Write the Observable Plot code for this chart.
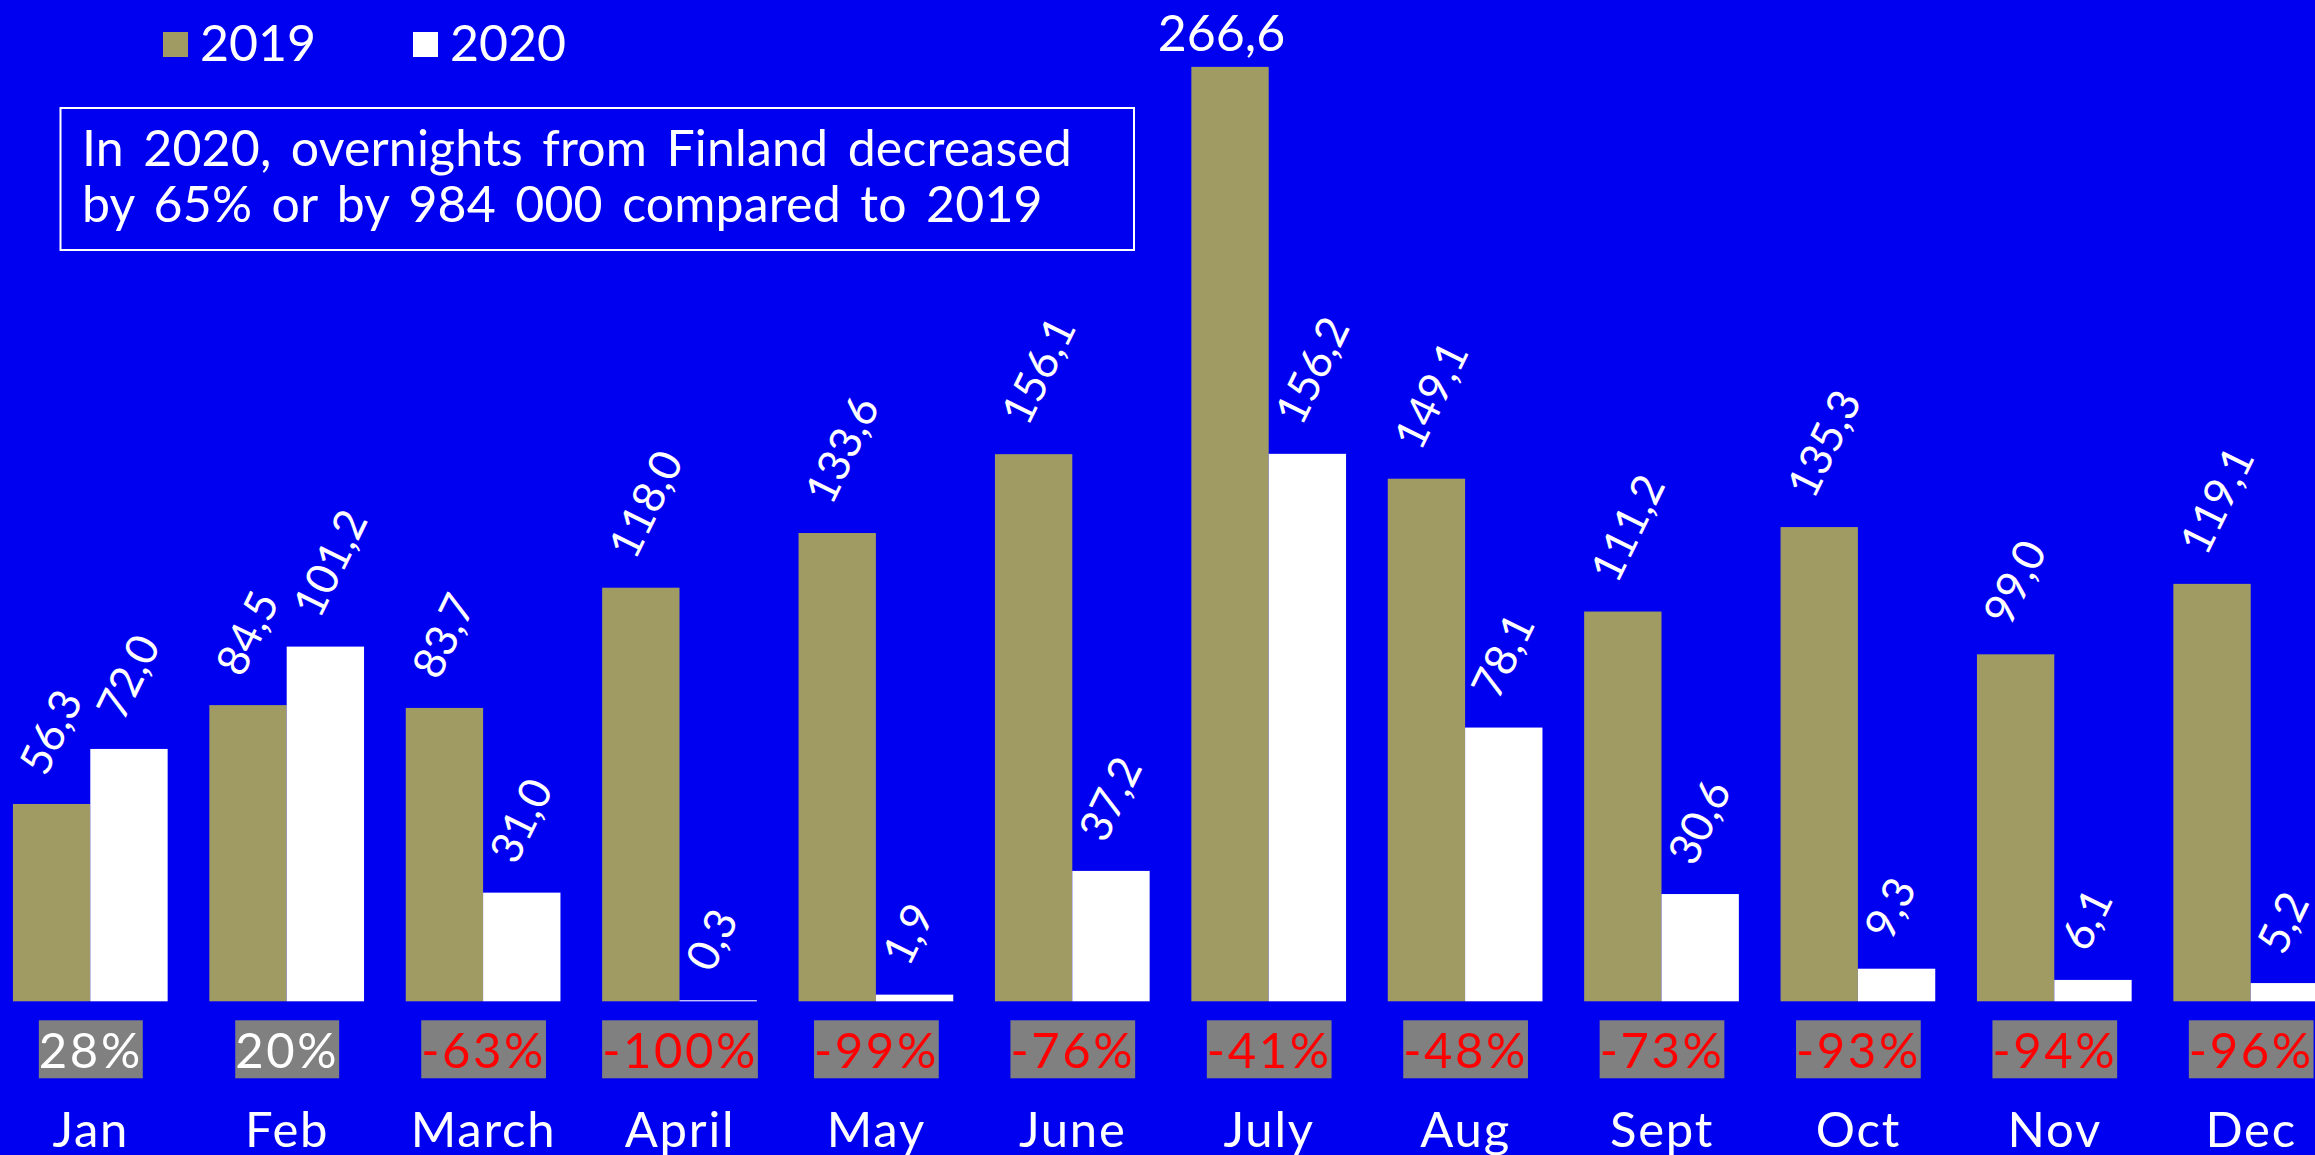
<!DOCTYPE html>
<html><head><meta charset="utf-8">
<script src="https://cdn.jsdelivr.net/npm/d3@7"></script>
<script src="https://cdn.jsdelivr.net/npm/@observablehq/plot@0.6"></script>
<style>
html,body{margin:0;padding:0;background:#0000F0;overflow:hidden;}
#wrap{position:relative;width:2315px;height:1155px;overflow:hidden;background:#0000F0;}
#wrap > svg{position:absolute;left:0;top:0;}
</style></head><body><div id="wrap"></div>
<script>
// ---- data ----
const months = ["Jan","Feb","March","April","May","June","July","Aug","Sept","Oct","Nov","Dec"];
const values2019 = [56.3, 84.5, 83.7, 118.0, 133.6, 156.1, 266.6, 149.1, 111.2, 135.3, 99.0, 119.1];
const values2020 = [72.0, 101.2, 31.0, 0.3, 1.9, 37.2, 156.2, 78.1, 30.6, 9.3, 6.1, 5.2];
const changes = [28, 20, -63, -100, -99, -76, -41, -48, -73, -93, -94, -96];
const seriesNames = ["2019", "2020"];
const noteLines = ["In 2020, overnights from Finland decreased", "by 65% or by 984 000 compared to 2019"];

// ---- style ----
const BLUE = "#0000F0", OLIVE = "#A09A63", WHITE = "#FFFFFF", RED = "#FF0000", GRAY = "#808080";
const FONT = "Lato, 'Open Sans', sans-serif";

const rows2019 = months.map((m, i) => ({month: m, value: values2019[i]}));
const rows2020 = months.map((m, i) => ({month: m, value: values2020[i]}));
const pctRows = months.map((m, i) => ({month: m, change: changes[i]}));
const fmt = v => v.toFixed(1).replace(".", ",");
const fmtPct = v => (v < 0 ? "-" : "") + Math.abs(v) + "%";

// layout of the band scale (groups run off the right edge as in the reference)
const step = 196.4, firstCenter = 90.3, pad = 0.2123;
const xStart = firstCenter - step * (1 + pad) / 2;
const xEnd = xStart + step * (months.length + pad);
const half = step * (1 - pad) / 2;
const base = 1001.3;
const ROT = -64, RFS = 44, RDX = -19, RDY = -33;

const chart = Plot.plot({
  width: 2315, height: 1155,
  marginLeft: 0, marginRight: 0, marginTop: base - 280 * 3.505, marginBottom: 1155 - base,
  style: {background: "transparent", fontFamily: FONT, color: WHITE},
  x: {domain: months, range: [xStart, xEnd], padding: pad, round: false, axis: null},
  y: {domain: [0, 280], axis: null},
  marks: [
    Plot.barY(rows2019, {x: "month", y: "value", fill: OLIVE, insetRight: half}),
    Plot.barY(rows2020, {x: "month", y: "value", fill: WHITE, insetLeft: half}),
    Plot.text(rows2019.filter(d => d.month !== "July"), {
      x: "month", y: "value", text: d => fmt(d.value), rotate: ROT, textAnchor: "start",
      dx: -half / 2 + RDX, dy: RDY, fill: WHITE, fontSize: RFS
    }),
    Plot.text(rows2019.filter(d => d.month === "July"), {
      x: "month", y: "value", text: d => fmt(d.value), textAnchor: "middle", lineAnchor: "bottom",
      dx: -half / 2 - 9, dy: -16.4, fill: WHITE, fontSize: 50
    }),
    Plot.text(rows2020, {
      x: "month", y: "value", text: d => fmt(d.value), rotate: ROT, textAnchor: "start",
      dx: half / 2 + RDX, dy: RDY, fill: WHITE, fontSize: RFS
    }),
    Plot.text(pctRows.filter(d => d.change >= 0), {
      x: "month", text: d => fmtPct(d.change), frameAnchor: "bottom", lineAnchor: "bottom",
      dy: 66.5, fill: WHITE, fontSize: 49
    }),
    Plot.text(pctRows.filter(d => d.change < 0), {
      x: "month", text: d => fmtPct(d.change), frameAnchor: "bottom", lineAnchor: "bottom",
      dy: 66.5, fill: RED, fontSize: 49
    }),
    Plot.text(months, {
      x: d => d, text: d => d, frameAnchor: "bottom", lineAnchor: "bottom",
      dy: 144.7, fill: WHITE, fontSize: 49
    })
  ]
});

const wrap = document.getElementById("wrap");
wrap.appendChild(chart);

// slightly wider letter fit, like the reference face
chart.querySelectorAll("text").forEach(t => {
  if (months.includes(t.textContent)) t.setAttribute("letter-spacing", "1.8");
  if (/%$/.test(t.textContent)) t.setAttribute("letter-spacing", "2.6");
});

// grey label backgrounds sized to the text
chart.querySelectorAll("text").forEach(t => {
  if (!/%$/.test(t.textContent)) return;
  const b = t.getBBox();
  const r = document.createElementNS("http://www.w3.org/2000/svg", "rect");
  r.setAttribute("x", b.x); r.setAttribute("y", b.y);
  r.setAttribute("width", b.width); r.setAttribute("height", b.height);
  const tr = t.getAttribute("transform"); if (tr) r.setAttribute("transform", tr);
  r.setAttribute("fill", GRAY); r.setAttribute("stroke", "none");
  t.parentNode.insertBefore(r, t);
});

// legend + note box overlay
const ov = d3.select(wrap).append("svg").attr("width", 2315).attr("height", 1155)
  .style("font-family", FONT).style("pointer-events", "none");
const legendColors = [OLIVE, WHITE];
const legendX = [163, 413];
seriesNames.forEach((s, i) => {
  ov.append("rect").attr("x", legendX[i]).attr("y", 32).attr("width", 25).attr("height", 25).attr("fill", legendColors[i]);
  ov.append("text").attr("x", legendX[i] + 37).attr("y", 61).attr("fill", WHITE).attr("font-size", 50).text(s);
});
ov.append("rect").attr("x", 60.5).attr("y", 108).attr("width", 1073.5).attr("height", 142)
  .attr("fill", "none").attr("stroke", WHITE).attr("stroke-width", 2);
noteLines.forEach((line, i) => {
  ov.append("text").attr("x", 82).attr("y", 166 + 56 * i).attr("fill", WHITE).attr("font-size", 50)
    .attr("letter-spacing", 0.17).attr("word-spacing", 6.4).text(line);
});
</script></body></html>
